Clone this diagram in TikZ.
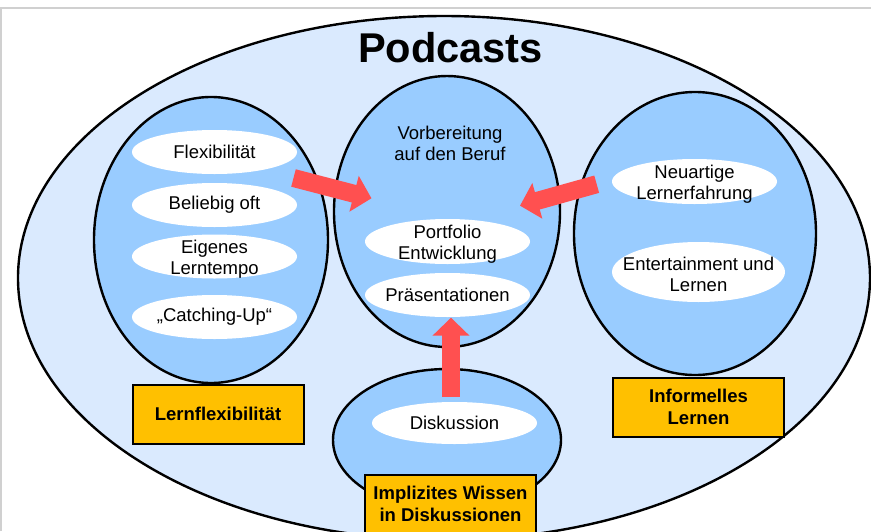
\documentclass[tikz,border=0pt]{standalone}
\usepackage{fontspec}
\setmainfont{Liberation Sans}
\usepackage{tikz}
\usetikzlibrary{shapes.geometric}
\usetikzlibrary{arrows.meta}
\definecolor{podbg}{RGB}{218,234,254}
\definecolor{clusterblue}{RGB}{153,204,255}
\definecolor{taggold}{RGB}{255,192,0}
\definecolor{pushred}{RGB}{255,80,80}
\definecolor{framegray}{RGB}{208,208,208}
\tikzset{
    podcast/.style={ellipse, draw, line width=2.4pt, fill=podbg, inner sep=0pt},
    cluster/.style={ellipse, draw, line width=2.4pt, fill=clusterblue, inner sep=0pt},
    spot/.style={ellipse, fill=white, inner sep=0pt, minimum width=165pt, minimum height=44pt},
    spotlines/.style={align=center, yshift=-2.5pt},
    tag/.style={draw, line width=2pt, fill=taggold, font=\fontsize{18.5}{21.5}\selectfont\bfseries,
        align=center, minimum width=171pt, minimum height=59pt, inner sep=0pt},
    push/.style={draw=pushred, line width=18pt, -{Triangle[width=36pt, length=18pt]}},
}

\begin{document}
\begin{tikzpicture}[x=1pt, y=-1pt, font=\fontsize{18.5}{21.5}\selectfont]
    \fill[white](0, 0) rectangle (871, 531);
    \clip(0, 0) rectangle (871, 531);
    \draw[framegray, line width=2pt](1, 531) -- (1, 7.5) -- (871, 7.5);
    % big ellipse and title
    \node[podcast, minimum width=852pt, minimum height=524pt] (pod) at (444, 278) {};
    \node[font=\fontsize{41.6}{48}\selectfont\bfseries] (title) at (450.5, 48) {Podcasts};
    % the four clusters
    \node[cluster, minimum width=234pt, minimum height=286pt] (lern) at (211, 240) {};
    \node[cluster, minimum width=226pt, minimum height=271pt] (beruf) at (447, 211.5) {};
    \node[cluster, minimum width=242pt, minimum height=283pt] (info) at (695, 233.5) {};
    \node[cluster, minimum width=228pt, minimum height=142pt] (wissen) at (447, 440) {};
    % white spots
    \node[spot, label={center:Flexibilität}] (flex) at (214.5, 152) {};
    \node[spot, label={center:Beliebig oft}] (oft) at (214.5, 205) {};
    \node[spot, label={[spotlines]center:Eigenes\\Lerntempo}] (tempo) at (214.5, 256.5) {};
    \node[spot, label={center:„Catching-Up“}] (catch) at (214.5, 317) {};
    \node[align=center] (vorb) at (450, 143.5) {Vorbereitung\\auf den Beruf};
    \node[spot, minimum height=45pt, label={[spotlines]center:Portfolio\\Entwicklung}] (portf) at (447.5, 241.5) {};
    \node[spot, label={center:Präsentationen}] (praes) at (447.5, 295) {};
    \node[spot, minimum height=45pt, label={[spotlines]center:Neuartige\\Lernerfahrung}] (neu) at (694.5, 181.5) {};
    \node[spot, minimum width=173pt, minimum height=60pt, label={[spotlines]center:Entertainment und\\Lernen}] (enter) at (698.5, 272) {};
    \node[spot, minimum height=42pt, label={center:Diskussion}] (disk) at (454.5, 423) {};
    % arrows
    \coordinate (leftTail) at (293.5, 178);
    \coordinate (leftTip) at (371.5, 198.3);
    \coordinate (rightTail) at (596.7, 184.2);
    \coordinate (rightTip) at (520, 205.7);
    \coordinate (riseTail) at (451, 397);
    \coordinate (riseTip) at (451, 317.7);
    \draw[push](leftTail) -- (leftTip);
    \draw[push](rightTail) -- (rightTip);
    \draw[push](riseTail) -- (riseTip);
    % labels
    \node[tag] (lernTag) at (218, 414) {Lernflexibilität};
    \node[tag] (infoTag) at (698.5, 407) {Informelles\\Lernen};
    \node[tag] (wissenTag) at (450.5, 504) {Implizites Wissen\\in Diskussionen};
\end{tikzpicture}
\end{document}
